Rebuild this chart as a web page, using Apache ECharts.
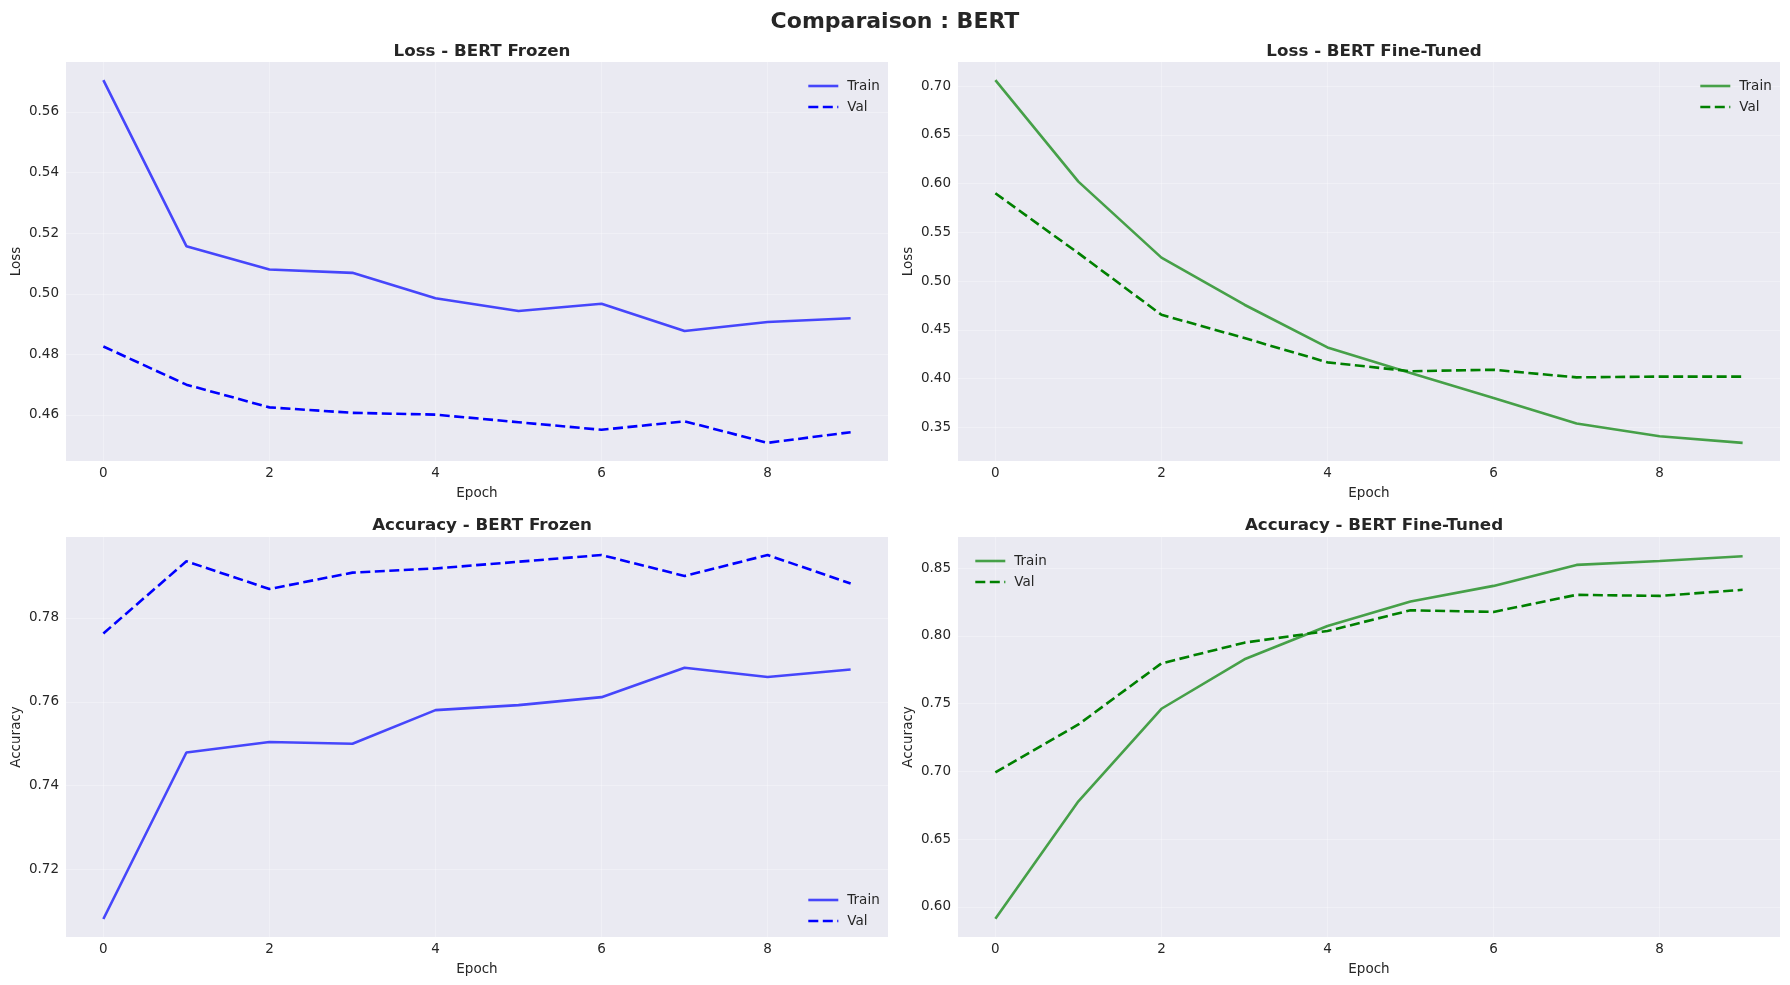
<!DOCTYPE html>
<html><head><meta charset="utf-8">
<script src="https://cdn.jsdelivr.net/npm/echarts@6/dist/echarts.min.js"></script>
<style>html,body{margin:0;padding:0;background:#fff}#c{width:1790px;height:985px}</style>
</head><body><div id="c"></div>
<script>
const epochs = [0,1,2,3,4,5,6,7,8,9];
const xTicks = [0,2,4,6,8];

const frozenLossTrain = [0.5705,0.5157,0.5080,0.5069,0.4985,0.4943,0.4967,0.4877,0.4907,0.4919];
const frozenLossVal   = [0.4826,0.4700,0.4625,0.4607,0.4601,0.4576,0.4551,0.4579,0.4508,0.4543];
const ftLossTrain     = [0.7061,0.6020,0.5240,0.4757,0.4319,0.4057,0.3800,0.3538,0.3408,0.3340];
const ftLossVal       = [0.5900,0.5286,0.4654,0.4415,0.4166,0.4075,0.4090,0.4012,0.4020,0.4020];
const frozenAccTrain  = [0.7082,0.7479,0.7504,0.7500,0.7580,0.7592,0.7611,0.7681,0.7659,0.7677];
const frozenAccVal    = [0.7763,0.7935,0.7869,0.7908,0.7918,0.7934,0.7950,0.7900,0.7950,0.7882];
const ftAccTrain      = [0.5911,0.6779,0.7462,0.7827,0.8073,0.8254,0.8369,0.8524,0.8553,0.8588];
const ftAccVal        = [0.6993,0.7346,0.7797,0.7950,0.8036,0.8189,0.8177,0.8303,0.8295,0.8340];

const yTicksFrozenLoss = [0.46,0.48,0.50,0.52,0.54,0.56];
const yTicksFtLoss     = [0.35,0.40,0.45,0.50,0.55,0.60,0.65,0.70];
const yTicksFrozenAcc  = [0.72,0.74,0.76,0.78];
const yTicksFtAcc      = [0.60,0.65,0.70,0.75,0.80,0.85];

const TXT = '#262626';
const FONT = 'DejaVu Sans';
const grids = [
  {left:66, top:62, width:822, height:399},
  {left:958, top:62, width:822, height:399},
  {left:66, top:537, width:822, height:400},
  {left:958, top:537, width:822, height:400}
];
const yRanges = [[0.4448,0.5765],[0.3154,0.7247],[0.7039,0.7993],[0.5777,0.8730]];
const yTicks = [yTicksFrozenLoss, yTicksFtLoss, yTicksFrozenAcc, yTicksFtAcc];
const yNames = ['Loss','Loss','Accuracy','Accuracy'];
const titles = ['Loss - BERT Frozen','Loss - BERT Fine-Tuned','Accuracy - BERT Frozen','Accuracy - BERT Fine-Tuned'];
const seriesData = [
  [frozenLossTrain, frozenLossVal, 'blue'],
  [ftLossTrain, ftLossVal, 'green'],
  [frozenAccTrain, frozenAccVal, 'blue'],
  [ftAccTrain, ftAccVal, 'green']
];
const colors = {
  blue: {train:'rgba(0,0,255,0.7)', val:'#0000ff'},
  green:{train:'rgba(0,128,0,0.7)', val:'#008000'}
};
const legendPos = [
  {left:802, top:74},
  {left:1694, top:74},
  {left:802, top:888},
  {left:969, top:549}
];

const splitStyle = {show:true, lineStyle:{color:'rgba(255,255,255,0.3)', width:1.2}};
const option = {
  backgroundColor:'#ffffff',
  animation:false,
  title: [{text:'Comparaison : BERT', left:'center', top:6,
           textStyle:{fontFamily:FONT, fontWeight:'bold', fontSize:22, color:TXT}}]
    .concat(titles.map((t,i)=>({text:t, left:grids[i].left+grids[i].width/2, textAlign:'center',
      top: i<2 ? 38 : 512, textStyle:{fontFamily:FONT, fontWeight:'bold', fontSize:16.7, color:TXT}}))),
  grid: grids.map(g=>Object.assign({backgroundColor:'#EAEAF2', show:true, borderWidth:0}, g)),
  xAxis: grids.map((g,i)=>({
    type:'value', gridIndex:i, min:-0.45, max:9.45,
    name:'Epoch', nameLocation:'middle', nameGap:25,
    nameTextStyle:{fontFamily:FONT, fontSize:13.5, color:TXT},
    axisLine:{show:false},
    axisTick:{show:false, customValues:xTicks},
    axisLabel:{customValues:xTicks, margin:5, fontFamily:FONT, fontSize:13.5, color:TXT},
    splitLine:splitStyle
  })),
  yAxis: grids.map((g,i)=>({
    type:'value', gridIndex:i, min:yRanges[i][0], max:yRanges[i][1],
    name:yNames[i], nameLocation:'middle', nameGap:43,
    nameTextStyle:{fontFamily:FONT, fontSize:13.5, color:TXT},
    axisLine:{show:false},
    axisTick:{show:false, customValues:yTicks[i]},
    axisLabel:{customValues:yTicks[i], margin:7, fontFamily:FONT, fontSize:13.5, color:TXT,
      formatter:v=>v.toFixed(2)},
    splitLine:splitStyle
  })),
  legend: seriesData.map((s,i)=>({
    orient:'vertical', left:legendPos[i].left, top:legendPos[i].top,
    itemWidth:30, itemHeight:14, itemGap:7,
    itemStyle:{opacity:0},
    lineStyle:{width:2.6},
    data:[{name:'Train'+i}, {name:'Val'+i}],
    formatter: n=>n.replace(/\d+$/,''),
    textStyle:{fontFamily:FONT, fontSize:13.5, color:TXT, padding:[0,0,0,4]}
  })),
  series: []
};
seriesData.forEach((s,i)=>{
  const c = colors[s[2]];
  option.series.push({
    type:'line', name:'Train'+i, xAxisIndex:i, yAxisIndex:i,
    data: epochs.map((e,k)=>[e, s[0][k]]), symbol:'none',
    itemStyle:{color:c.train},
    lineStyle:{color:c.train, width:2.6}
  });
  option.series.push({
    type:'line', name:'Val'+i, xAxisIndex:i, yAxisIndex:i,
    data: epochs.map((e,k)=>[e, s[1][k]]), symbol:'none',
    itemStyle:{color:c.val},
    lineStyle:{color:c.val, width:2.6, type:[10,4.5]}
  });
});
const chart = echarts.init(document.getElementById('c'), null, {renderer:'canvas'});
chart.setOption(option);
</script></body></html>
